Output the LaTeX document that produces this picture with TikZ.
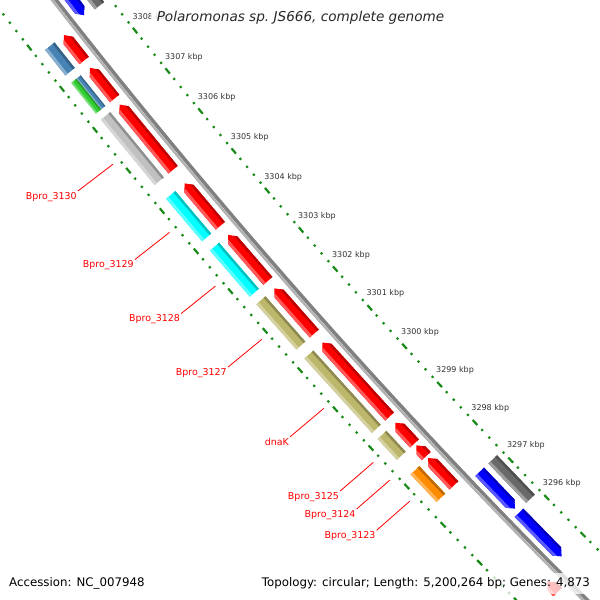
\documentclass[tikz,border=0pt]{standalone}
\usepackage{fontspec}
\setmainfont{DejaVu Sans}
\usepackage{xfp}
\definecolor{rulergreen}{RGB}{24,138,24}
\definecolor{tickgray}{RGB}{51,51,51}
\definecolor{titlegray}{RGB}{40,40,40}
\definecolor{bbdark}{RGB}{128,128,128}
\definecolor{bblight}{RGB}{178,178,178}
\definecolor{cgred}{RGB}{255,0,0}
\definecolor{cgblue}{RGB}{0,0,255}
\definecolor{cgsteel}{RGB}{70,130,180}
\definecolor{cggreen}{RGB}{50,205,50}
\definecolor{cgsilver}{RGB}{192,192,192}
\definecolor{cgcyan}{RGB}{0,255,255}
\definecolor{cgkhaki}{RGB}{189,183,107}
\definecolor{cgorange}{RGB}{255,140,0}
\definecolor{cgdim}{RGB}{105,105,105}

% point at genome position #2 (kbp) and radius #3 (pt) on the map circle
\newcommand\gmdef[3]{%
  \edef\gmtx{\fpeval{round(5175+(#3)*cosd(219.09+(3307-(#2))*0.4609),3)}}%
  \edef\gmty{\fpeval{round(4597+(#3)*sind(219.09+(3307-(#2))*0.4609),3)}}%
  \coordinate (#1) at (\gmtx pt,\gmty pt);}

\newcommand\gmquad[5]{%
  \gmdef{gqa}{#1}{#3}\gmdef{gqb}{#2}{#3}\gmdef{gqc}{#2}{#4}\gmdef{gqd}{#1}{#4}%
  \fill[#5] (gqa) -- (gqb) -- (gqc) -- (gqd) -- cycle;}

\newcommand\gmbar[5]{%
  \gmquad{#1}{#2}{#3}{#4}{#5}%
  \gmquad{#1}{#2}{(#4)-0.25*((#4)-(#3))}{#4}{#5!65!white}%
  \gmquad{#1}{#2}{#3}{(#3)+0.2*((#4)-(#3))}{#5!75!black}}

% arrow from tail #1 to tip #2 (kbp), radii #3 (inner) #4 (outer)
\newcommand\gmarrow[5]{%
  \edef\gmsg{\fpeval{sign((#2)-(#1))}}%
  \gmdef{gaa}{#1}{#3}%
  \gmdef{gab}{(#2)-0.134*(\gmsg)}{#3}%
  \gmdef{gac}{#2}{((#3)+(#4))/2}%
  \gmdef{gad}{(#2)-0.134*(\gmsg)}{#4}%
  \gmdef{gae}{#1}{#4}%
  \fill[#5] (gaa) -- (gab) -- (gac) -- (gad) -- (gae) -- cycle;
  \gmdef{gha}{#1}{(#4)-0.25*((#4)-(#3))}%
  \gmdef{ghb}{(#2)-0.067*(\gmsg)}{(#4)-0.25*((#4)-(#3))}%
  \fill[#5!65!white] (gha) -- (ghb) -- (gad) -- (gae) -- cycle;
  \gmdef{gsa}{#1}{(#3)+0.2*((#4)-(#3))}%
  \gmdef{gsb}{(#2)-0.0804*(\gmsg)}{(#3)+0.2*((#4)-(#3))}%
  \fill[#5!75!black] (gaa) -- (gab) -- (gsb) -- (gsa) -- cycle;}

\newcommand\gmlabel[3]{%
  \gmdef{#1e}{#2}{6553}\gmdef{#1s}{(#2)+0.03}{6597}%
  \node[genelbl] (#1) at (#1s) {#3};
  \draw[leader] (#1.north east) -- (#1e);}

\begin{document}
\begin{tikzpicture}[x=1pt,y=1pt,
  ruler/.style={draw=rulergreen, line width=2.2pt},
  ticklbl/.style={font=\fontsize{8}{9}\selectfont, text=tickgray, inner sep=0pt},
  genelbl/.style={font=\fontsize{9.47}{11}\selectfont, text=red, inner sep=1pt, anchor=north east},
  leader/.style={draw=red, line width=0.8pt},
  titlebox/.style={font=\fontsize{13.6}{16}\selectfont\itshape, text=titlegray, fill=white, fill opacity=0.85, text opacity=1, inner xsep=6pt, inner ysep=3pt},
  infobox/.style={font=\fontsize{11.8}{14}\selectfont, text=black, fill=white, fill opacity=0.75, text opacity=1, inner sep=5pt}]
\useasboundingbox (0,0) rectangle (600,600);
\clip (0,0) rectangle (600,600);

% rulers (dots every 0.2 kbp, dashes every kbp)
\foreach \k in {0,...,85} {
  \pgfmathtruncatemacro\mm{mod(\k,5)}
  \ifnum\mm=0 \def\hl{0.067}\else\def\hl{0.021}\fi
  \edef\pp{\fpeval{3293+0.2*\k}}
  \gmdef{ria}{\pp-\hl}{6451.5}\gmdef{rib}{\pp+\hl}{6451.5}
  \draw[ruler] (ria) -- (rib);
  \gmdef{roa}{\pp-\hl}{6545}\gmdef{rob}{\pp+\hl}{6545}
  \draw[ruler] (roa) -- (rob);
}

% backbone
\foreach \k in {0,...,40} {\gmdef{bi\k}{3312-0.5*\k}{6494.5}\gmdef{bo\k}{3312-0.5*\k}{6497.75}}
\draw[line width=3.5pt, bbdark] (bi0) \foreach \k in {1,...,40} {-- (bi\k)};
\draw[line width=2.5pt, bblight] (bo0) \foreach \k in {1,...,40} {-- (bo\k)};

% forward CDS (red arrows)
\gmarrow{3308.16}{3308.78}{6504}{6516}{cgred}
\gmarrow{3307.23}{3307.98}{6504}{6516}{cgred}
\gmarrow{3305.47}{3307.08}{6504}{6516}{cgred}
\gmarrow{3304.07}{3305.13}{6504}{6516}{cgred}
\gmarrow{3302.68}{3303.84}{6504}{6516}{cgred}
\gmarrow{3301.34}{3302.49}{6504}{6516}{cgred}
\gmarrow{3299.20}{3301.11}{6504}{6516}{cgred}
\gmarrow{3298.50}{3299.04}{6504}{6516}{cgred}
\gmarrow{3298.17}{3298.45}{6504}{6516}{cgred}
\gmarrow{3297.40}{3298.12}{6504}{6516}{cgred}
\gmarrow{3294.56}{3294.84}{6504}{6516}{cgred}

% COG slot, forward
\gmbar{3308.16}{3308.78}{6522}{6534}{cgsteel}
\gmbar{3307.23}{3307.98}{6522}{6527.5}{cgsteel}
\gmbar{3307.23}{3307.98}{6527.5}{6534}{cggreen}
\gmbar{3305.47}{3307.08}{6522}{6534}{cgsilver}
\gmbar{3304.07}{3305.13}{6522}{6534}{cgcyan}
\gmbar{3302.68}{3303.84}{6522}{6534}{cgcyan}
\gmbar{3301.34}{3302.49}{6522}{6534}{cgkhaki}
\gmbar{3299.20}{3301.11}{6522}{6534}{cgkhaki}
\gmbar{3298.50}{3299.04}{6522}{6534}{cgkhaki}
\gmbar{3297.40}{3298.12}{6522}{6534}{cgorange}

% reverse CDS (blue arrows)
\gmarrow{3311.00}{3308.84}{6476}{6488}{cgblue}
\gmarrow{3297.25}{3296.27}{6476}{6488}{cgblue}
\gmarrow{3296.16}{3294.99}{6476}{6488}{cgblue}

% COG slot, reverse
\gmbar{3308.80}{3311.00}{6458}{6470}{cgdim}
\gmbar{3296.20}{3297.25}{6458}{6470}{cgdim}

% gene labels
\gmlabel{lA}{3306.28}{Bpro\_3130}
\gmlabel{lB}{3304.60}{Bpro\_3129}
\gmlabel{lC}{3303.26}{Bpro\_3128}
\gmlabel{lD}{3301.92}{Bpro\_3127}
\gmlabel{lE}{3300.16}{dnaK}
\gmlabel{lF}{3298.77}{Bpro\_3125}
\gmlabel{lG}{3298.31}{Bpro\_3124}
\gmlabel{lH}{3297.76}{Bpro\_3123}

% ruler labels
\foreach \n in {3296,...,3308} {\gmdef{tk\n}{\n}{6430.5}\node[ticklbl] (tkl\n) at (tk\n) {\n\ kbp};}

\node[titlebox, anchor=base] (title) at (300.5,578) {Polaromonas sp.\ JS666, complete genome};
\node[infobox, anchor=base west] (acc) at (4,13) {Accession: NC\_007948};
\node[infobox, anchor=base east] (topo) at (595,13) {Topology: circular; Length: 5,200,264 bp; Genes: 4,873};
\end{tikzpicture}
\end{document}
